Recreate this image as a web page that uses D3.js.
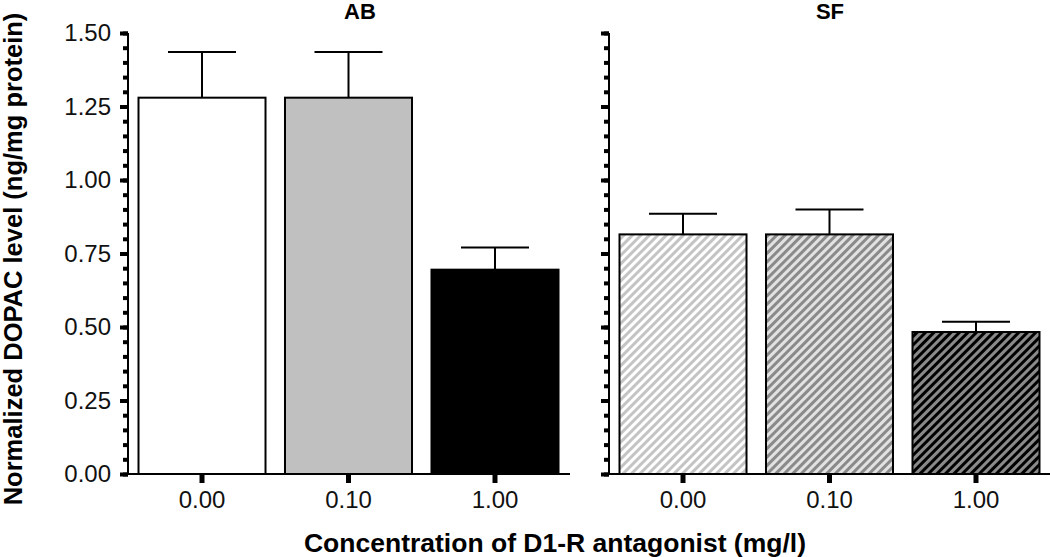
<!DOCTYPE html>
<html>
<head>
<meta charset="utf-8">
<script src="https://cdn.jsdelivr.net/npm/d3@7"></script>
<style>
  body { margin: 0; background: #fff; }
  text { font-family: "Liberation Sans", Arial, sans-serif; }
</style>
</head>
<body>
<div id="chart"></div>
<script>
// data
const panels = ["AB", "SF"];
const doses = ["0.00", "0.10", "1.00"];
const meanAB = [1.28, 1.28, 0.695];
const semAB = [0.155, 0.155, 0.075];
const meanSF = [0.815, 0.815, 0.483];
const semSF = [0.07, 0.085, 0.035];
const yTicks = [0, 0.25, 0.5, 0.75, 1.0, 1.25, 1.5];

const W = 1050, H = 557;
const svg = d3.select("#chart").append("svg")
    .attr("width", W).attr("height", H);

const defs = svg.append("defs");
// hatch fills for SF bars
const hatch = [
  {id: "h0", bg: "#ffffff", fg: "#c4c4c4"},
  {id: "h1", bg: "#e2e2e2", fg: "#8a8a8a"},
  {id: "h2", bg: "#8a8a8a", fg: "#000000"}
];
hatch.forEach(h => {
  const p = defs.append("pattern")
      .attr("id", h.id)
      .attr("patternUnits", "userSpaceOnUse")
      .attr("width", 6).attr("height", 6)
      .attr("patternTransform", "rotate(45)");
  p.append("rect").attr("width", 6).attr("height", 6).attr("fill", h.bg);
  p.append("rect").attr("x", 0).attr("width", 3).attr("height", 6).attr("fill", h.fg);
});

const solidFill = ["#ffffff", "#c0c0c0", "#000000"];

const y = d3.scaleLinear().domain([0, 1.5]).range([474, 33]);

const layout = [
  {name: "AB", x0: 128, x1: 570, tx: 360, mean: meanAB, sem: semAB, fill: solidFill},
  {name: "SF", x0: 609, x1: 1050, tx: 830, mean: meanSF, sem: semSF, fill: hatch.map(h => `url(#${h.id})`)}
];

layout.forEach((p, pi) => {
  const g = svg.append("g");
  const x = d3.scaleBand().domain(doses)
      .range([p.x0 + 10.5, p.x0 + 10.5 + 420])
      .paddingInner(0.133).paddingOuter(0);

  // y axis with minor ticks
  const minor = d3.range(0, 1.5001, 0.05);
  g.append("g")
    .attr("transform", `translate(${p.x0},0)`)
    .call(d3.axisLeft(y).tickValues(minor).tickSize(5).tickFormat(""))
    .call(a => a.selectAll(".tick line").attr("stroke-width", 4))
    .call(a => a.select(".domain").remove());
  const major = g.append("g")
    .attr("transform", `translate(${p.x0},0)`)
    .call(d3.axisLeft(y).tickValues(yTicks).tickSize(8).tickPadding(9)
      .tickFormat(pi === 0 ? d3.format(".2f") : ""));
  major.select(".domain").attr("d", `M0,${y(0)}V${y(1.5)}`).attr("stroke-width", 2);
  major.selectAll(".tick line").attr("stroke-width", 4);
  major.selectAll(".tick text").attr("font-size", 24).attr("fill", "#111");

  // bars
  doses.forEach((d, i) => {
    const cx = x(d) + x.bandwidth() / 2;
    const top = y(p.mean[i]);
    const errTop = y(p.mean[i] + p.sem[i]);
    g.append("line")
      .attr("x1", cx).attr("x2", cx).attr("y1", top).attr("y2", errTop)
      .attr("stroke", "#000").attr("stroke-width", 2);
    g.append("line")
      .attr("x1", cx - 34).attr("x2", cx + 34).attr("y1", errTop).attr("y2", errTop)
      .attr("stroke", "#000").attr("stroke-width", 2);
    g.append("rect")
      .attr("x", x(d)).attr("width", x.bandwidth())
      .attr("y", top).attr("height", y(0) - top)
      .attr("fill", p.fill[i])
      .attr("stroke", "#000").attr("stroke-width", 2);
  });

  // x axis
  const xa = g.append("g")
    .attr("transform", `translate(0,${y(0)})`)
    .call(d3.axisBottom(x).tickSize(9).tickPadding(8));
  xa.select(".domain").attr("d", `M${p.x0},0H${p.x1}`).attr("stroke-width", 2);
  xa.selectAll(".tick line").attr("stroke-width", 5);
  xa.selectAll(".tick text").attr("font-size", 24).attr("fill", "#111");

  svg.append("text")
    .attr("x", p.tx).attr("y", 19)
    .attr("text-anchor", "middle")
    .attr("font-size", 22).attr("font-weight", "bold")
    .text(p.name);
});

svg.append("text")
  .attr("x", 555).attr("y", 552)
  .attr("text-anchor", "middle")
  .attr("font-size", 26.5).attr("font-weight", "bold")
  .text("Concentration of D1-R antagonist (mg/l)");

svg.append("text")
  .attr("transform", "translate(22,259) rotate(-90)")
  .attr("text-anchor", "middle")
  .attr("font-size", 25.5).attr("font-weight", "bold")
  .text("Normalized DOPAC level (ng/mg protein)");
</script>
</body>
</html>
